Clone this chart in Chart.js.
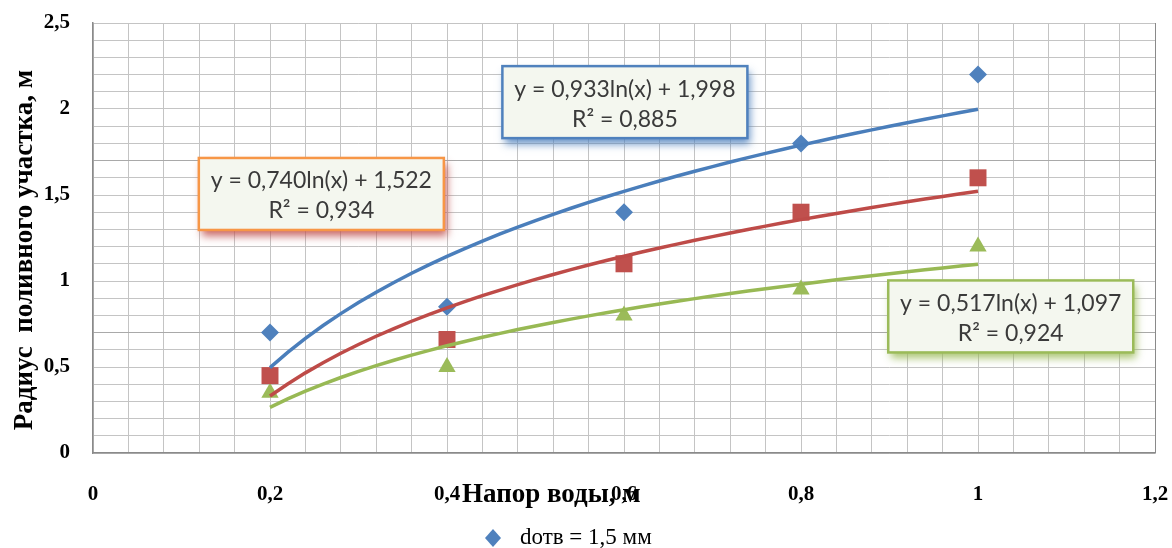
<!DOCTYPE html>
<html>
<head>
<meta charset="utf-8">
<script src="https://cdn.jsdelivr.net/npm/chart.js@4.4.1/dist/chart.umd.min.js"></script>
<style>
    html, body { margin: 0; padding: 0; background: #ffffff; }
    #wrap { width: 1172px; height: 548px; }
</style>
</head>
<body>
<div id="wrap"><canvas id="radiusChart" width="1172" height="548"></canvas></div>
<script>
// measured values (напор воды, м -> радиус, м)
const headValues = [0.2, 0.4, 0.6, 0.8, 1.0];
const radiusBlue = [0.70, 0.85, 1.40, 1.80, 2.20];
const radiusRed = [0.45, 0.66, 1.10, 1.40, 1.60];
const radiusGreen = [0.35, 0.50, 0.80, 0.95, 1.20];

// logarithmic trendlines as printed on the chart
const trendSlopes = [0.933, 0.740, 0.517];
const trendIntercepts = [1.998, 1.522, 1.097];
const trendR2 = [0.885, 0.934, 0.924];

const seriesNames = ['dотв = 1,5 мм'];
const xTickLabels = ['0', '0,2', '0,4', '0,6', '0,8', '1', '1,2'];
const yTickLabels = ['0', '0,5', '1', '1,5', '2', '2,5'];

const xTitle = 'Напор воды, м';
const yTitle = 'Радиус  поливного участка, м';

const markerColors = ['#4F81BD', '#C0504D', '#9BBB59'];
const lineColors = ['#4A7EBB', '#BE4B48', '#98B954'];

// where the equation boxes sit (in axis units) and how they look
const eqBoxes = [
    { x: 0.601, y: 2.04, border: '#4F81BD', shadow: 'rgba(79,129,189,0.85)' },
    { x: 0.258, y: 1.506, border: '#F79646', shadow: 'rgba(192,80,77,0.85)' },
    { x: 1.037, y: 0.794, border: '#9BBB59', shadow: 'rgba(155,187,89,0.85)' }
];

const fmt = v => v.toFixed(3).replace('.', ',');

function trendPoints(i) {
    const pts = [];
    for (let k = 0; k <= 40; k++) {
        const x = 0.2 + k * 0.02;
        pts.push({ x: x, y: trendSlopes[i] * Math.log(x) + trendIntercepts[i] });
    }
    return pts;
}

const toXY = ys => headValues.map((x, i) => ({ x: x, y: ys[i] }));

const isMultiple = (v, step) => Math.abs(v / step - Math.round(v / step)) < 1e-6;

// keep tick label padding from shrinking the plot area
function noScalePadding(scale) {
    scale.paddingTop = 0;
    scale.paddingBottom = 0;
    scale.paddingLeft = 0;
    scale.paddingRight = 0;
}

const decorPlugin = {
    id: 'decor',
    afterDatasetsDraw(chart) {
        const { ctx, scales: { x, y } } = chart;
        eqBoxes.forEach((b, i) => {
            const cx = x.getPixelForValue(b.x);
            const cy = y.getPixelForValue(b.y);
            const w = 245, h = 72;
            const left = cx - w / 2, top = cy - h / 2;
            ctx.save();
            ctx.shadowColor = b.shadow;
            ctx.shadowBlur = 8;
            ctx.shadowOffsetX = 3;
            ctx.shadowOffsetY = 6;
            ctx.fillStyle = '#f4f7ef';
            ctx.fillRect(left, top, w, h);
            ctx.restore();

            ctx.save();
            ctx.strokeStyle = b.border;
            ctx.lineWidth = 2.5;
            ctx.strokeRect(left, top, w, h);
            ctx.fillStyle = '#3a3a3a';
            ctx.font = '23px Lato';
            ctx.textAlign = 'center';
            ctx.textBaseline = 'middle';
            ctx.fillText('y = ' + fmt(trendSlopes[i]) + 'ln(x) + ' + fmt(trendIntercepts[i]), cx, top + 23);
            ctx.fillText('R² = ' + fmt(trendR2[i]), cx, top + 53);
            ctx.restore();
        });
    },
    afterDraw(chart) {
        const { ctx } = chart;
        ctx.save();
        ctx.fillStyle = '#000';
        ctx.textBaseline = 'middle';

        // y axis title
        ctx.save();
        ctx.translate(25, 250);
        ctx.rotate(-Math.PI / 2);
        ctx.font = 'bold 27px "Liberation Serif"';
        ctx.textAlign = 'center';
        ctx.fillText(yTitle, 0, 0);
        ctx.restore();

        // x axis title
        ctx.font = 'bold 27px "Liberation Serif"';
        ctx.textAlign = 'left';
        ctx.fillText(xTitle, 462, 495);

        // legend (only the first entry is visible)
        ctx.fillStyle = markerColors[0];
        ctx.beginPath();
        ctx.moveTo(493, 529);
        ctx.lineTo(501, 538);
        ctx.lineTo(493, 547);
        ctx.lineTo(485, 538);
        ctx.closePath();
        ctx.fill();
        ctx.fillStyle = '#000';
        ctx.font = '23px "Liberation Serif"';
        ctx.fillText(seriesNames[0], 520, 538);
        ctx.restore();
    }
};

new Chart(document.getElementById('radiusChart'), {
    type: 'scatter',
    data: {
        datasets: [
            { data: toXY(radiusBlue), pointStyle: 'rectRot', pointRadius: 9, backgroundColor: markerColors[0], borderColor: markerColors[0], borderWidth: 0, order: 1 },
            { data: toXY(radiusRed), pointStyle: 'rect', pointRadius: 12, backgroundColor: markerColors[1], borderColor: markerColors[1], borderWidth: 0, order: 1 },
            { data: toXY(radiusGreen), pointStyle: 'triangle', pointRadius: 10, backgroundColor: markerColors[2], borderColor: markerColors[2], borderWidth: 0, order: 1 },
            { data: trendPoints(0), showLine: true, pointRadius: 0, borderColor: lineColors[0], borderWidth: 3.5, order: 0 },
            { data: trendPoints(1), showLine: true, pointRadius: 0, borderColor: lineColors[1], borderWidth: 3.5, order: 0 },
            { data: trendPoints(2), showLine: true, pointRadius: 0, borderColor: lineColors[2], borderWidth: 3.5, order: 0 }
        ]
    },
    options: {
        responsive: false,
        animation: false,
        layout: { padding: { top: 23, right: 17, left: 0, bottom: 0 } },
        plugins: {
            legend: { display: false },
            tooltip: { enabled: false }
        },
        scales: {
            x: {
                type: 'linear',
                min: 0,
                max: 1.2,
                afterFit(scale) { scale.height = 95; noScalePadding(scale); },
                ticks: {
                    stepSize: 0.04,
                    autoSkip: false,
                    maxRotation: 0,
                    padding: 29,
                    color: '#000',
                    font: { family: 'Liberation Serif', size: 21, weight: 'bold' },
                    callback: v => isMultiple(v, 0.2) ? xTickLabels[Math.round(v / 0.2)] : ''
                },
                grid: {
                    drawTicks: false,
                    color: c => (c.tick && Math.abs(c.tick.value - 1.2) < 1e-6) ? '#8a8a8a' : '#c4c4c4',
                    lineWidth: 1
                },
                border: { color: '#8a8a8a', width: 1.5 }
            },
            y: {
                type: 'linear',
                min: 0,
                max: 2.5,
                afterFit(scale) { scale.width = 93; noScalePadding(scale); },
                ticks: {
                    stepSize: 0.1,
                    autoSkip: false,
                    padding: 23,
                    color: '#000',
                    font: { family: 'Liberation Serif', size: 21, weight: 'bold' },
                    callback: v => isMultiple(v, 0.5) ? yTickLabels[Math.round(v / 0.5)] : ''
                },
                grid: {
                    drawTicks: false,
                    color: c => (c.tick && (Math.abs(c.tick.value - 0.7) < 1e-6 || Math.abs(c.tick.value - 1.7) < 1e-6)) ? '#a9a9a9' : '#c4c4c4',
                    lineWidth: 1
                },
                border: { color: '#8a8a8a', width: 1.5 }
            }
        }
    },
    plugins: [decorPlugin]
});
</script>
</body>
</html>
